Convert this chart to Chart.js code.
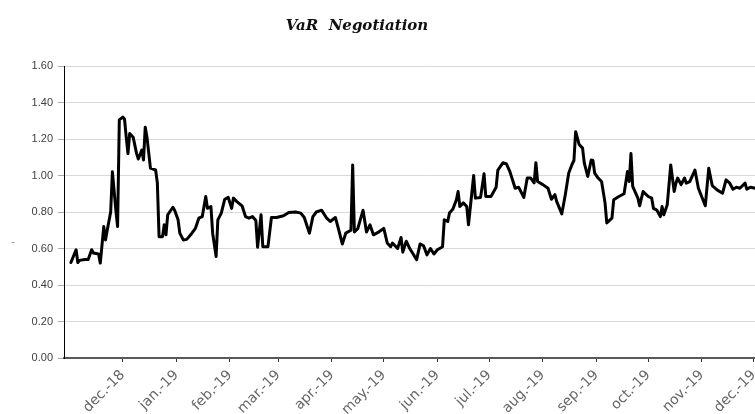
<!DOCTYPE html>
<html>
<head>
<meta charset="utf-8">
<title>VaR Negotiation</title>
<script src="https://cdn.jsdelivr.net/npm/chart.js@4/dist/chart.umd.min.js"></script>
<style>
  html, body { margin: 0; padding: 0; background: #fff; overflow: hidden; }
  #wrap { width: 755px; height: 414px; overflow: hidden; }
</style>
</head>
<body>
<div id="wrap">
  <canvas id="chart" width="790" height="440"></canvas>
</div>
<script>
// days counted from 28 oct 2018
const days = [
  4, 7, 8, 9, 12, 14, 16, 17, 20, 21, 23, 24, 25, 27, 28, 30, 31, 32, 34, 35,
  36, 37, 38, 40, 42, 43, 45, 46, 47, 48, 50, 53, 54, 55, 57, 58, 59, 60, 63, 64,
  66, 67, 69, 71, 74, 76, 78, 80, 82, 83, 85, 86, 88, 89, 91, 93, 95, 97, 98, 100,
  103, 105, 107, 109, 111, 112, 114, 115, 118, 120, 123, 127, 130, 134, 137, 139, 142, 144, 146, 149,
  152, 154, 157, 159, 161, 163, 166, 167, 168, 170, 173, 175, 177, 179, 182, 185, 187, 189, 190, 193,
  195, 196, 198, 200, 202, 204, 206, 208, 210, 212, 214, 216, 219, 220, 222, 223, 225, 227, 228, 229,
  231, 233, 234, 237, 238, 241, 243, 244, 247, 250, 251, 254, 256, 258, 261, 263, 266, 268, 270, 272,
  273, 274, 277, 280, 282, 284, 285, 288, 290, 292, 294, 295, 296, 298, 300, 301, 303, 305, 306, 307,
  309, 311, 313, 314, 317, 318, 321, 324, 326, 327, 328, 329, 332, 333, 335, 338, 340, 341, 343, 345,
  346, 347, 349, 351, 353, 354, 355, 357, 359, 360, 362, 365, 367, 371, 373, 375, 378, 381, 383, 385,
  387, 389, 391, 394, 395, 397, 400, 403
];
const varValues = [
  0.523, 0.593, 0.523, 0.535, 0.54, 0.54, 0.593, 0.575, 0.57, 0.52, 0.72, 0.647, 0.70, 0.80, 1.02, 0.81, 0.72, 1.305, 1.32, 1.31,
  1.21, 1.12, 1.23, 1.21, 1.12, 1.09, 1.14, 1.085, 1.265, 1.21, 1.04, 1.03, 0.96, 0.665, 0.665, 0.73, 0.675, 0.785, 0.826, 0.81,
  0.757, 0.684, 0.647, 0.65, 0.684, 0.71, 0.766, 0.775, 0.885, 0.82, 0.83, 0.684, 0.556, 0.757, 0.794, 0.87, 0.88, 0.82, 0.876, 0.857,
  0.834, 0.775, 0.766, 0.775, 0.753, 0.607, 0.785, 0.61, 0.61, 0.77, 0.77, 0.779, 0.797, 0.80, 0.794, 0.77, 0.684, 0.775, 0.80, 0.81,
  0.766, 0.748, 0.77, 0.70, 0.625, 0.684, 0.70, 1.058, 0.69, 0.71, 0.81, 0.69, 0.73, 0.675, 0.69, 0.71, 0.63, 0.61, 0.63, 0.60,
  0.66, 0.58, 0.64, 0.60, 0.57, 0.538, 0.625, 0.615, 0.565, 0.60, 0.57, 0.593, 0.61, 0.757, 0.748, 0.794, 0.816, 0.867, 0.912, 0.83,
  0.85, 0.83, 0.73, 1.0, 0.876, 0.88, 1.01, 0.885, 0.885, 0.936, 1.03, 1.07, 1.063, 1.02, 0.93, 0.936, 0.88, 0.986, 0.986, 0.96,
  1.07, 0.967, 0.95, 0.93, 0.87, 0.895, 0.858, 0.79, 0.895, 1.014, 1.063, 1.082, 1.24, 1.17, 1.15, 1.068, 0.995, 1.085, 1.082, 1.013,
  0.986, 0.967, 0.85, 0.74, 0.766, 0.867, 0.885, 0.90, 1.022, 0.967, 1.12, 0.94, 0.876, 0.834, 0.912, 0.885, 0.876, 0.82, 0.81, 0.775,
  0.83, 0.785, 0.84, 1.058, 0.912, 0.958, 0.986, 0.95, 0.986, 0.958, 0.967, 1.03, 0.93, 0.834, 1.04, 0.945, 0.92, 0.903, 0.976, 0.96,
  0.925, 0.936, 0.93, 0.958, 0.925, 0.936, 0.93, 0.94
];
const monthDays = [34, 65, 96, 124, 155, 185, 216, 246, 277, 308, 338, 369, 399];
const monthLabels = ['dec.-18', 'jan.-19', 'feb.-19', 'mar.-19', 'apr.-19', 'may.-19', 'jun.-19',
  'jul.-19', 'aug.-19', 'sep.-19', 'oct.-19', 'nov.-19', 'dec.-19'];
const yTicks = [0, 0.2, 0.4, 0.6, 0.8, 1.0, 1.2, 1.4, 1.6];

const points = days.map((d, i) => ({ x: d, y: varValues[i] }));

// title and the little axis mark, drawn on top
const titlePlugin = {
  id: 'titleText',
  afterDraw(chart) {
    const ctx = chart.ctx;
    ctx.save();
    ctx.fillStyle = '#111';
    ctx.font = 'italic bold 15px "DejaVu Serif"';
    ctx.textAlign = 'center';
    ctx.textBaseline = 'alphabetic';
    ctx.fillText('VaR  Negotiation', 357, 30);
    ctx.fillStyle = '#888';
    ctx.font = '11px "Liberation Sans"';
    ctx.fillText('-', 13, 245);
    ctx.restore();
  }
};

new Chart(document.getElementById('chart').getContext('2d'), {
  type: 'line',
  data: {
    datasets: [{
      label: 'VaR',
      data: points,
      borderColor: '#000',
      borderWidth: 3,
      pointRadius: 0,
      tension: 0,
      fill: false,
      borderJoinStyle: 'round',
      borderCapStyle: 'round'
    }]
  },
  options: {
    responsive: false,
    animation: false,
    layout: { padding: { top: 66, left: 0, right: 0, bottom: 0 } },
    plugins: {
      legend: { display: false },
      tooltip: { enabled: false },
      title: { display: false }
    },
    scales: {
      x: {
        type: 'linear',
        min: 0,
        max: 420,
        afterBuildTicks: s => { s.ticks = monthDays.map(v => ({ value: v })); },
        afterFit: s => { s.height = 82; },
        grid: { drawOnChartArea: false, drawTicks: true, tickLength: 4, tickColor: '#333' },
        border: { display: true, color: '#595959', width: 2 },
        ticks: {
          autoSkip: false,
          minRotation: 45,
          maxRotation: 45,
          padding: 5,
          color: '#666',
          font: { family: 'DejaVu Sans', size: 14 },
          callback: (v, i) => monthLabels[i]
        }
      },
      y: {
        min: 0,
        max: 1.6,
        afterBuildTicks: s => { s.ticks = yTicks.map(v => ({ value: v })); },
        afterFit: s => { s.width = 64; },
        grid: { color: '#d9d9d9', lineWidth: 1, tickLength: 6, tickColor: '#aaa' },
        border: { display: true, color: '#000', width: 1 },
        ticks: {
          padding: 5,
          color: '#404040',
          font: { family: 'Liberation Sans', size: 11 },
          callback: v => v.toFixed(2)
        }
      }
    }
  },
  plugins: [titlePlugin]
});
</script>
</body>
</html>
